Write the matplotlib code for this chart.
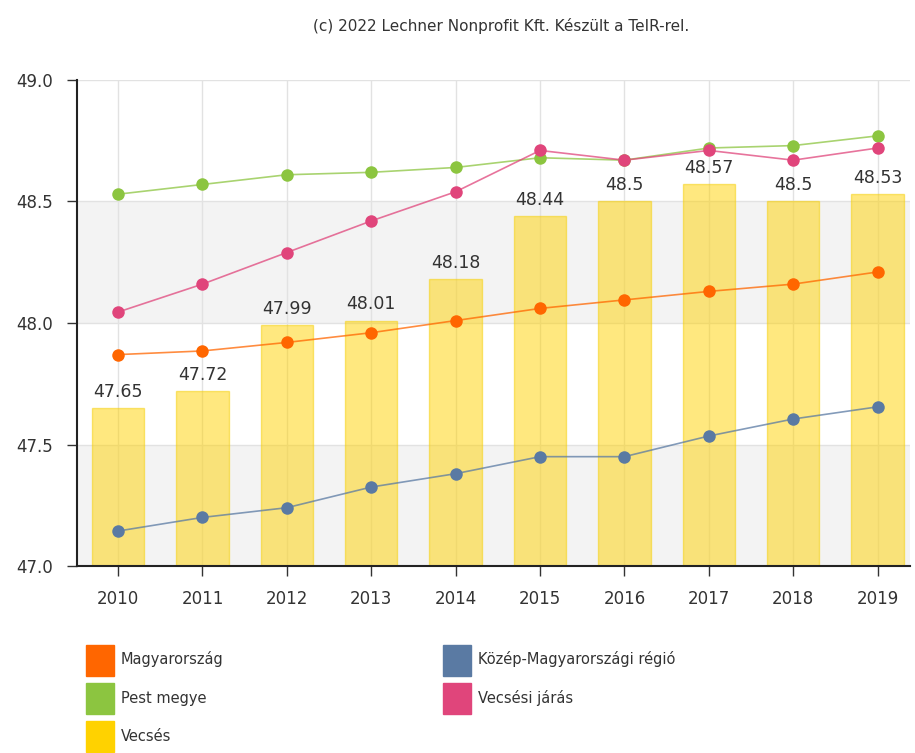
import numpy as np
import matplotlib.pyplot as plt
from matplotlib.patches import Patch

years = ["2010", "2011", "2012", "2013", "2014", "2015", "2016", "2017", "2018", "2019"]
vecses = [47.65, 47.72, 47.99, 48.01, 48.18, 48.44, 48.5, 48.57, 48.5, 48.53]
vecses_labels = ["47.65", "47.72", "47.99", "48.01", "48.18", "48.44", "48.5", "48.57", "48.5", "48.53"]
magyarorszag = [47.87, 47.885, 47.92, 47.96, 48.01, 48.06, 48.095, 48.13, 48.16, 48.21]
pest_megye = [48.53, 48.57, 48.61, 48.62, 48.64, 48.68, 48.67, 48.72, 48.73, 48.77]
kozep_mo = [47.144, 47.20, 47.24, 47.325, 47.38, 47.45, 47.45, 47.535, 47.605, 47.655]
vecsesi_jaras = [48.045, 48.16, 48.29, 48.42, 48.54, 48.71, 48.67, 48.71, 48.67, 48.72]

c_orange = "#ff6600"
c_green = "#8cc540"
c_yellow = "#ffd200"
c_blue = "#5a7aa3"
c_pink = "#e0457b"

plt.rcParams["font.family"] = ["DejaVu Sans"]

fig = plt.figure(figsize=(9.15, 7.53), dpi=100)
ax = fig.add_axes([0.0842, 0.2483, 0.910, 0.6455])

x = np.arange(len(years))
ax.set_xlim(-0.486, 9.38)
ax.set_ylim(47.0, 49.0)

# alternating background bands
for lo in (47.0, 48.0):
    ax.axhspan(lo, lo + 0.5, color="#f3f3f3", zorder=0, lw=0)
for yv in (47.5, 48.0, 48.5, 49.0):
    ax.axhline(yv, color="#e2e2e2", lw=1, zorder=0.5)
for xv in x:
    ax.axvline(xv, color="#e2e2e2", lw=1, zorder=0.5)

ax.bar(x, np.array(vecses) - 47.0, bottom=47.0, width=0.62,
       color=c_yellow, alpha=0.5, edgecolor="#f5cf00", lw=1, zorder=1)
for xi, v, lab in zip(x, vecses, vecses_labels):
    ax.text(xi, v + 0.03, lab, ha="center", va="bottom", fontsize=12.5,
            color="#333333", zorder=5)

for vals, col in [(magyarorszag, c_orange), (pest_megye, c_green),
                  (kozep_mo, c_blue), (vecsesi_jaras, c_pink)]:
    ax.plot(x, vals, color=col, lw=1.2, alpha=0.75, zorder=3)
    ax.plot(x, vals, "o", color=col, ms=9, mec="none", zorder=4)

ax.set_xticks(x)
ax.set_xticklabels(years, fontsize=12, color="#333333")
ax.set_yticks([47.0, 47.5, 48.0, 48.5, 49.0])
ax.set_yticklabels(["47.0", "47.5", "48.0", "48.5", "49.0"], fontsize=12, color="#333333")
ax.tick_params(axis="both", direction="out", length=7, width=1, color="#333333", pad=10)
ax.spines["top"].set_visible(False)
ax.spines["right"].set_visible(False)
ax.spines["left"].set_color("#222222")
ax.spines["bottom"].set_color("#222222")
ax.spines["left"].set_linewidth(1.5)
ax.spines["bottom"].set_linewidth(1.5)

fig.text(0.548, 0.965, "(c) 2022 Lechner Nonprofit Kft. Készült a TeIR-rel.",
         ha="center", va="center", fontsize=11, color="#333333")

leg_kw = dict(frameon=False, handlelength=1.92, handleheight=2.9, handletextpad=0.48,
              labelspacing=0.5, fontsize=10.5, borderaxespad=0, borderpad=0,
              labelcolor="#333333")
h1 = [Patch(color=c_orange, label="Magyarország"),
      Patch(color=c_green, label="Pest megye"),
      Patch(color=c_yellow, label="Vecsés")]
h2 = [Patch(color=c_blue, label="Közép-Magyarországi régió"),
      Patch(color=c_pink, label="Vecsési járás")]
fig.legend(handles=h1, loc="upper left", bbox_to_anchor=(0.094, 0.144), **leg_kw)
fig.legend(handles=h2, loc="upper left", bbox_to_anchor=(0.484, 0.144), **leg_kw)

fig.savefig("out.png", dpi=100)
